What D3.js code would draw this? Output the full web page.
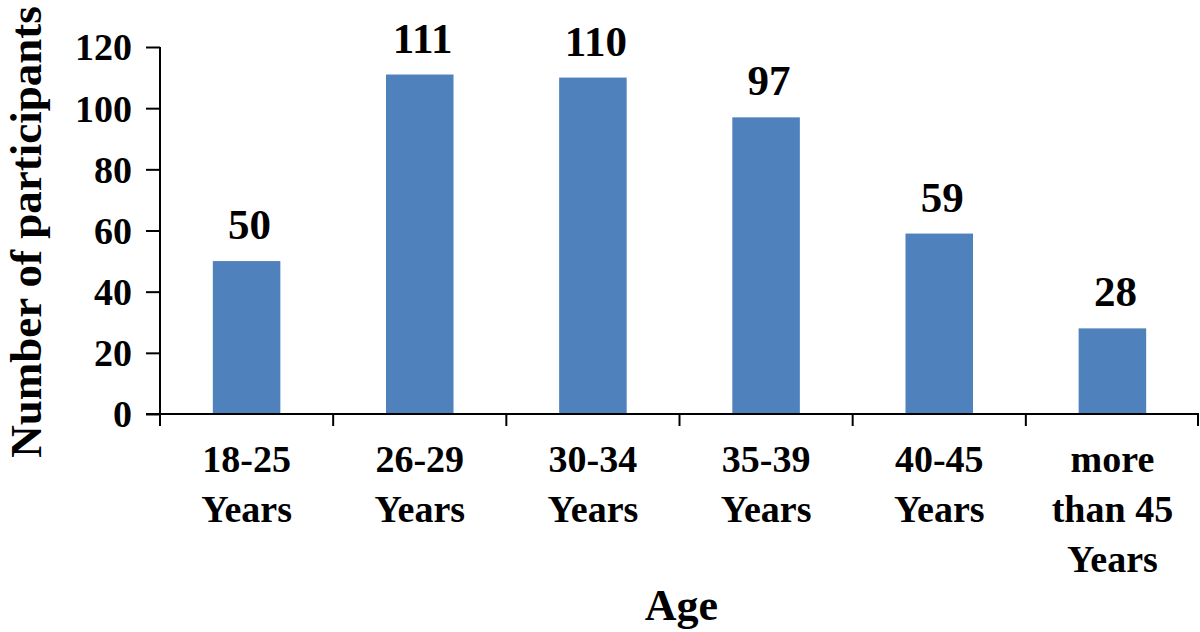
<!DOCTYPE html>
<html>
<head>
<meta charset="utf-8">
<script src="https://cdn.jsdelivr.net/npm/d3@7"></script>
<style>
  body { margin: 0; background: #fff; }
  text { font-family: "Liberation Serif", "Times New Roman", serif; font-weight: bold; fill: #000; }
</style>
</head>
<body>
<div id="chart"></div>
<script>
// Data
var categories = ["18-25 Years", "26-29 Years", "30-34 Years", "35-39 Years", "40-45 Years", "more than 45 Years"];
var categoryLines = [["18-25", "Years"], ["26-29", "Years"], ["30-34", "Years"], ["35-39", "Years"], ["40-45", "Years"], ["more", "than 45", "Years"]];
var participants = [50, 111, 110, 97, 59, 28];
var yTicks = [0, 20, 40, 60, 80, 100, 120];

var w = 1200;
var h = 632;
var margin = {top: 47, right: 1, bottom: 218, left: 160};

var svg = d3.select("#chart")
    .append("svg")
    .attr("width", w)
    .attr("height", h);

var xScale = d3.scaleBand()
    .domain(categories)
    .range([margin.left, w - margin.right])
    .padding(0);

var yScale = d3.scaleLinear()
    .domain([0, 120])
    .range([h - margin.bottom, margin.top]);

var barWidth = xScale.bandwidth() * 0.39;

// Bars
svg.selectAll("rect.bar")
    .data(participants)
    .enter()
    .append("rect")
    .attr("class", "bar")
    .attr("x", function(d, i) {
        return xScale(categories[i]) + (xScale.bandwidth() - barWidth) / 2;
    })
    .attr("y", function(d) { return yScale(d); })
    .attr("width", barWidth)
    .attr("height", function(d) { return yScale(0) - yScale(d); })
    .style("fill", "#4F81BD");

// Value labels
svg.selectAll("text.value")
    .data(participants)
    .enter()
    .append("text")
    .attr("class", "value")
    .attr("x", function(d, i) { return xScale(categories[i]) + xScale.bandwidth() / 2 + 3; })
    .attr("y", function(d) { return yScale(d) - 22; })
    .attr("text-anchor", "middle")
    .style("font-size", "43px")
    .text(function(d) { return d; });

// Y axis
var yAxis = svg.append("g")
    .attr("transform", "translate(" + margin.left + ",0)")
    .call(d3.axisLeft(yScale).tickValues(yTicks).tickSize(14).tickPadding(14));
yAxis.select(".domain").attr("stroke", "#000").attr("stroke-width", 2).attr("d",
    "M0," + yScale(120) + "V" + yScale(0));
yAxis.selectAll(".tick line").attr("stroke", "#000").attr("stroke-width", 2);
yAxis.selectAll(".tick text")
    .style("font-size", "38px")
    .style("font-family", "Liberation Serif")
    .style("font-weight", "bold")
    .attr("dy", "0.34em")
    .attr("fill", "#000");

// X axis: ticks at category boundaries
var boundaries = categories.map(function(c) { return xScale(c); }).concat([xScale(categories[categories.length - 1]) + xScale.bandwidth()]);
var xAxisG = svg.append("g");
xAxisG.append("line")
    .attr("x1", margin.left - 14)
    .attr("x2", w - margin.right)
    .attr("y1", yScale(0))
    .attr("y2", yScale(0))
    .attr("stroke", "#000")
    .attr("stroke-width", 2);
xAxisG.selectAll("line.xtick")
    .data(boundaries)
    .enter()
    .append("line")
    .attr("class", "xtick")
    .attr("x1", function(d, i) { return i === boundaries.length - 1 ? d - 1 : d; })
    .attr("x2", function(d, i) { return i === boundaries.length - 1 ? d - 1 : d; })
    .attr("y1", yScale(0))
    .attr("y2", yScale(0) + 12)
    .attr("stroke", "#000")
    .attr("stroke-width", 2);

// Category labels (multi-line)
var catLabels = svg.selectAll("text.cat")
    .data(categoryLines)
    .enter()
    .append("text")
    .attr("class", "cat")
    .attr("text-anchor", "middle")
    .style("font-size", "38px")
    .attr("transform", function(d, i) {
        return "translate(" + (xScale(categories[i]) + xScale.bandwidth() / 2) + "," + (yScale(0) + 58) + ")";
    });
catLabels.selectAll("tspan")
    .data(function(d) { return d; })
    .enter()
    .append("tspan")
    .attr("x", 0)
    .attr("y", function(d, i) { return i * 50; })
    .text(function(d) { return d; });

// Axis titles
svg.append("text")
    .attr("transform", "translate(41," + 232 + ") rotate(-90)")
    .attr("text-anchor", "middle")
    .style("font-size", "45px")
    .text("Number of participants");

svg.append("text")
    .attr("x", (margin.left + w - margin.right) / 2 + 2)
    .attr("y", 620)
    .attr("text-anchor", "middle")
    .style("font-size", "44px")
    .text("Age");
</script>
</body>
</html>
